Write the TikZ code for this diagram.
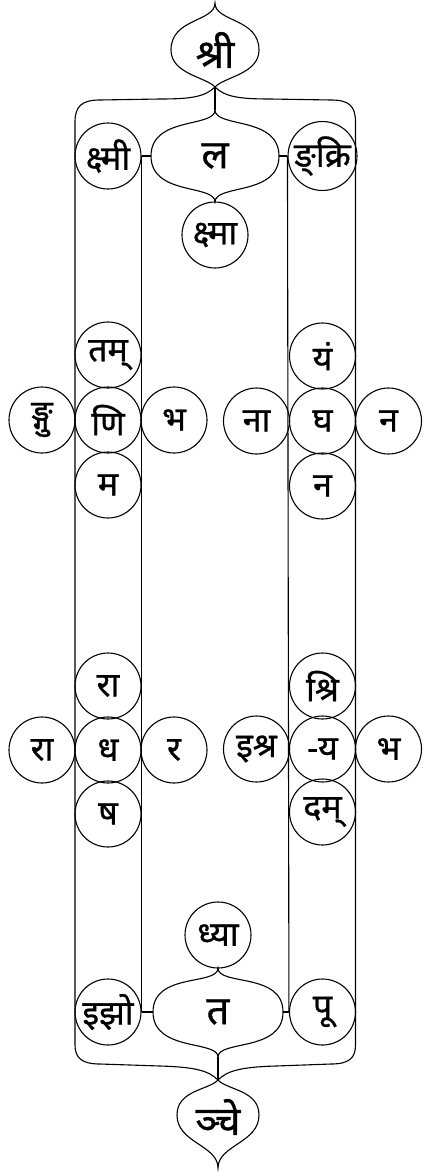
\documentclass[tikz,border=0pt]{standalone}
\usepackage{fontspec}
\newfontfamily\dev[Script=Devanagari,FakeBold=0.8]{Noto Sans}
\begin{document}
\begin{tikzpicture}[x=1pt,y=-1pt,line width=1.1pt,
  ring/.style={circle,draw,minimum size=66pt,inner sep=0pt,font=\dev\fontsize{34}{36}\selectfont},
  bigtext/.style={inner sep=0pt,font=\dev\fontsize{40}{42}\selectfont}]
\useasboundingbox (0,0) rectangle (423,1172);
% ---- top heart and brace
\draw (215,3) .. controls (215,22) and (171,18) .. (171,50) .. controls (171,74) and (206,77) .. (215,87)
      .. controls (224,77) and (259,74) .. (259,50) .. controls (259,18) and (215,22) .. (215,3) -- cycle;
\node[bigtext] (shri) at (215,50) {श्री};
\coordinate (topjoin) at (215,87);
\coordinate (latop) at (215,110);
\draw (topjoin) .. controls (205,97) and (190,99) .. (160,99) -- (100,100)
      .. controls (82,100) and (75,106) .. (75,122) -- (75,1045)
      .. controls (75,1058) and (82,1064) .. (100,1064) -- (160,1066)
      .. controls (196,1067) and (209,1071) .. (218,1080);
\draw (topjoin) .. controls (225,97) and (240,99) .. (270,99) -- (331,100)
      .. controls (349,100) and (355.5,106) .. (355.5,122) -- (355.5,1045)
      .. controls (355.5,1058) and (349,1064) .. (331,1064) -- (276,1066)
      .. controls (240,1067) and (227,1071) .. (218,1080);
\draw (topjoin) -- (latop);
% ---- top lens
\draw (215,110) .. controls (215,128) and (151,116) .. (151,156) .. controls (151,196) and (215,184) .. (215,202)
      .. controls (215,184) and (279,196) .. (279,156) .. controls (279,116) and (215,128) .. (215,110) -- cycle;
\node[bigtext] (la) at (215,156) {ल};
\coordinate (laW) at (151,156);
\coordinate (laE) at (279,156);
\node[ring] (ksmi) at (108,156) {क्ष्मी};
\node[ring] (nkri) at (322.5,156) {ङ्क्रि};
\node[ring] (ksma) at (215,235) {क्ष्मा};
\draw (ksmi) -- (laW);
\draw (laE) -- (nkri);
% ---- bottom lens
\node[ring] (dhya) at (218,935) {ध्या};
\draw (218,968) .. controls (218,986) and (153,972) .. (153,1012) .. controls (153,1052) and (218,1040) .. (218,1057)
      .. controls (218,1040) and (283,1052) .. (283,1012) .. controls (283,972) and (218,986) .. (218,968) -- cycle;
\node[bigtext] (ta) at (218,1012) {त};
\coordinate (taW) at (153,1012);
\coordinate (taE) at (283,1012);
\node[ring] (jho) at (108,1012) {इझो};
\node[ring] (pu) at (322.5,1012) {पू};
\draw (jho) -- (taW);
\draw (taE) -- (pu);
% ---- bottom heart
\coordinate (botjoin) at (218,1080);
\draw (218,1057) -- (botjoin);
\draw (218,1080) .. controls (209,1090) and (177,1090) .. (177,1115) .. controls (177,1143) and (218,1145) .. (218,1168)
      .. controls (218,1145) and (259,1143) .. (259,1115) .. controls (259,1090) and (227,1090) .. (218,1080) -- cycle;
\node[bigtext] (nce) at (218,1117) {ञ्चे};
% ---- inner vertical lines
\draw (ksmi.east) -- (jho.east);
\draw (nkri.west) -- (pu.west);
% ---- left cross 1
\node[ring] (tam) at (108,355) {तम्};
\node[ring] (ni) at (108,420) {णि};
\node[ring] (ma) at (108,485) {म};
\node[ring] (ngu) at (42,420) {ङ्गु};
\node[ring] (bhaA) at (174,420) {भ};
% ---- right cross 1
\node[ring] (yam) at (322.5,356) {यं};
\node[ring] (gha) at (322.5,421) {घ};
\node[ring] (naB) at (322.5,486) {न};
\node[ring] (naa) at (256.5,421) {ना};
\node[ring] (naA) at (388.5,421) {न};
% ---- left cross 2
\node[ring] (raaA) at (108,686) {रा};
\node[ring] (dha) at (108,750) {ध};
\node[ring] (sha) at (108,814) {ष};
\node[ring] (raaB) at (42,750) {रा};
\node[ring] (ra) at (174,750) {र};
% ---- right cross 2
\node[ring] (shri2) at (322.5,686) {श्रि};
\node[ring] (ya) at (322.5,749) {-य};
\node[ring] (dam) at (322.5,812) {दम्};
\node[ring] (ishra) at (256.5,749) {इश्र};
\node[ring] (bhaB) at (388.5,749) {भ};
\end{tikzpicture}
\end{document}
